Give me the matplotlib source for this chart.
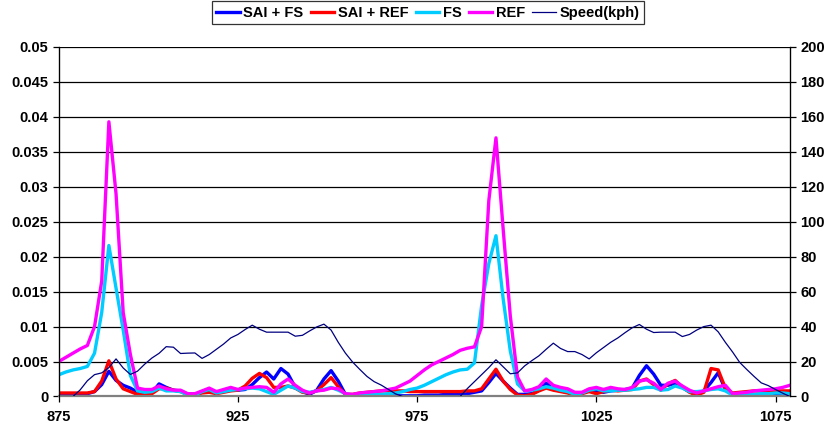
import numpy as np
import matplotlib
matplotlib.use("Agg")
import matplotlib.pyplot as plt

# ─── Data ─────────────────────────────────────────────────────────────────────

x = np.arange(875, 1080, 2)

sai_fs = [
    0.0002, 0.0002, 0.0002, 0.0003, 0.0004, 0.0007, 0.0017, 0.0036, 0.0023, 0.0016,
    0.0012, 0.0006, 0.0005, 0.0005, 0.0018, 0.0013, 0.0009, 0.0008, 0.0003, 0.0003,
    0.0006, 0.0009, 0.0006, 0.0008, 0.0009, 0.0009, 0.0010, 0.0017, 0.0027, 0.0035,
    0.0025, 0.0040, 0.0032, 0.0013, 0.0007, 0.0003, 0.0009, 0.0025, 0.0037, 0.0022,
    0.0003, 0.0002, 0.0002, 0.0002, 0.0001, 0.0001, 0.0001, 0.0001, 0.0001, 0.0001,
    0.0001, 0.0002, 0.0002, 0.0002, 0.0003, 0.0003, 0.0003, 0.0004, 0.0006, 0.0008,
    0.0020, 0.0033, 0.0022, 0.0012, 0.0003, 0.0003, 0.0004, 0.0009, 0.0019, 0.0010,
    0.0008, 0.0006, 0.0002, 0.0005, 0.0010, 0.0007, 0.0006, 0.0008, 0.0009, 0.0010,
    0.0012, 0.0030, 0.0044, 0.0032, 0.0016, 0.0016, 0.0019, 0.0013, 0.0007, 0.0002,
    0.0008, 0.0020, 0.0034, 0.0010, 0.0003, 0.0002, 0.0002, 0.0002, 0.0003, 0.0004,
    0.0004, 0.0005, 0.0002,
]

sai_ref = [
    0.0005, 0.0005, 0.0005, 0.0005, 0.0005, 0.0007, 0.0022, 0.0051, 0.0025, 0.0011,
    0.0007, 0.0003, 0.0002, 0.0004, 0.0011, 0.0012, 0.0009, 0.0007, 0.0003, 0.0003,
    0.0005, 0.0006, 0.0004, 0.0006, 0.0008, 0.0009, 0.0015, 0.0026, 0.0033, 0.0027,
    0.0013, 0.0013, 0.0015, 0.0012, 0.0006, 0.0005, 0.0008, 0.0017, 0.0027, 0.0014,
    0.0003, 0.0003, 0.0005, 0.0006, 0.0007, 0.0008, 0.0008, 0.0008, 0.0008, 0.0007,
    0.0007, 0.0007, 0.0007, 0.0007, 0.0007, 0.0007, 0.0007, 0.0008, 0.0008, 0.0011,
    0.0025, 0.0039, 0.0022, 0.0010, 0.0002, 0.0001, 0.0003, 0.0008, 0.0012, 0.0009,
    0.0007, 0.0005, 0.0002, 0.0004, 0.0007, 0.0004, 0.0007, 0.0009, 0.0008, 0.0009,
    0.0010, 0.0022, 0.0025, 0.0017, 0.0009, 0.0018, 0.0023, 0.0013, 0.0006, 0.0002,
    0.0006, 0.0040, 0.0038, 0.0012, 0.0005, 0.0006, 0.0007, 0.0008, 0.0008, 0.0008,
    0.0008, 0.0008, 0.0008,
]

fs = [
    0.0031, 0.0035, 0.0038, 0.0040, 0.0043, 0.0062, 0.0120, 0.0216, 0.0155, 0.0095,
    0.0030, 0.0008, 0.0006, 0.0007, 0.0012, 0.0008, 0.0008, 0.0007, 0.0002, 0.0002,
    0.0007, 0.0010, 0.0005, 0.0007, 0.0009, 0.0010, 0.0011, 0.0012, 0.0011, 0.0007,
    0.0003, 0.0009, 0.0015, 0.0012, 0.0007, 0.0006, 0.0008, 0.0010, 0.0013, 0.0009,
    0.0004, 0.0002, 0.0002, 0.0002, 0.0003, 0.0003, 0.0004, 0.0005, 0.0007, 0.0010,
    0.0012, 0.0016, 0.0021, 0.0026, 0.0031, 0.0035, 0.0038, 0.0039, 0.0048, 0.0130,
    0.0190, 0.0230, 0.0140, 0.0065, 0.0018, 0.0008, 0.0009, 0.0011, 0.0014, 0.0012,
    0.0009, 0.0007, 0.0003, 0.0005, 0.0009, 0.0011, 0.0008, 0.0008, 0.0009, 0.0009,
    0.0010, 0.0011, 0.0013, 0.0013, 0.0009, 0.0010, 0.0015, 0.0012, 0.0007, 0.0007,
    0.0008, 0.0010, 0.0011, 0.0008, 0.0002, 0.0003, 0.0003, 0.0003, 0.0004, 0.0004,
    0.0005, 0.0005, 0.0004,
]

ref = [
    0.0050, 0.0056, 0.0062, 0.0068, 0.0073, 0.0100, 0.0165, 0.0393, 0.0290, 0.0120,
    0.0060, 0.0012, 0.0010, 0.0010, 0.0015, 0.0011, 0.0009, 0.0009, 0.0004, 0.0004,
    0.0008, 0.0012, 0.0007, 0.0010, 0.0013, 0.0010, 0.0012, 0.0013, 0.0014, 0.0013,
    0.0006, 0.0018, 0.0025, 0.0016, 0.0009, 0.0005, 0.0008, 0.0009, 0.0012, 0.0011,
    0.0004, 0.0003, 0.0005, 0.0006, 0.0007, 0.0008, 0.0010, 0.0012, 0.0017, 0.0022,
    0.0030, 0.0038, 0.0045, 0.0050, 0.0055, 0.0060, 0.0066, 0.0069, 0.0071, 0.0100,
    0.0280, 0.0370, 0.0240, 0.0115, 0.0028, 0.0008, 0.0010, 0.0014, 0.0025, 0.0016,
    0.0013, 0.0011, 0.0006, 0.0006, 0.0011, 0.0013, 0.0010, 0.0013, 0.0011, 0.0010,
    0.0013, 0.0022, 0.0024, 0.0019, 0.0010, 0.0019, 0.0022, 0.0015, 0.0009, 0.0005,
    0.0008, 0.0011, 0.0014, 0.0016, 0.0004, 0.0005, 0.0006, 0.0008, 0.0009, 0.0010,
    0.0011, 0.0013, 0.0016,
]

speed = [
    0, 0, 0, 3.8, 9, 12.5, 13.5, 16.5, 21.5, 16.3,
    12.6, 14.5, 18.5, 22, 24.7, 28.5, 28.2, 24.6, 24.8, 24.9,
    21.8, 24, 27, 30, 33.5, 35.5, 38.3, 40.8, 38.5, 36.8,
    36.8, 36.8, 36.8, 34.5, 35, 37.5, 39.8, 41.4, 38, 31,
    24.8, 19.7, 15.5, 11.5, 8.5, 6.5, 4, 1.5, 0, 0,
    0, 0, 0, 0, 0, 0, 0, 4.5, 8.5, 12.5,
    16.5, 21, 17, 13, 13.5, 17.5, 20.5, 23.3, 27, 30.5,
    27.5, 25.7, 25.7, 24, 21.5, 25, 28, 31, 33.5, 36.5,
    39.3, 41.2, 38.5, 36.6, 36.8, 36.8, 36.8, 34.3, 35.5, 38,
    40, 40.8, 37, 31, 25.5, 19.5, 15.4, 11.5, 7.8, 6.2,
    4, 1.9, 0,
]

left_ticks = np.arange(0, 0.0501, 0.005)
left_labels = ["0", "0.005", "0.01", "0.015", "0.02", "0.025",
               "0.03", "0.035", "0.04", "0.045", "0.05"]
right_ticks = np.arange(0, 201, 20)
x_ticks = [875, 925, 975, 1025, 1075]

# ─── Figure ───────────────────────────────────────────────────────────────────

plt.rcParams["font.family"] = ["Liberation Sans", "DejaVu Sans"]
plt.rcParams["font.weight"] = "bold"
FS_ = 10.5

fig = plt.figure(figsize=(8.29, 4.29), dpi=100)
ax = fig.add_axes([0.0708, 0.0758, 0.882, 0.8147])

l1, = ax.plot(x, sai_fs, color="#0000FF", lw=2.4, label="SAI + FS")
l2, = ax.plot(x, sai_ref, color="#FF0000", lw=2.4, label="SAI + REF")
l3, = ax.plot(x, fs, color="#00CCFF", lw=2.4, label="FS")
l4, = ax.plot(x, ref, color="#FF00FF", lw=2.4, label="REF")

ax.set_xlim(875, 1079)
ax.set_ylim(0, 0.05)
ax.set_yticks(left_ticks)
ax.set_yticklabels(left_labels)
ax.set_xticks(x_ticks)
ax.set_xticklabels([str(t) for t in x_ticks])
for t in left_ticks[1:]:
    ax.axhline(t, color="black", lw=0.9, zorder=0)

ax.tick_params(axis="both", labelsize=FS_, direction="out", length=4, width=0.9)
ax.tick_params(axis="x", pad=6)
ax.spines["top"].set_visible(False)
ax.spines["bottom"].set_color("#808080")
ax.spines["bottom"].set_linewidth(1.6)
ax.spines["left"].set_linewidth(0.9)

ax2 = ax.twinx()
l5, = ax2.plot(x, speed, color="#000080", lw=0.9, label="Speed(kph)")
ax2.set_ylim(0, 200)
ax2.set_yticks(right_ticks)
ax2.tick_params(axis="y", labelsize=FS_, direction="out", length=4, width=0.9)
ax2.spines["top"].set_visible(False)
ax2.spines["bottom"].set_visible(False)
ax2.spines["right"].set_linewidth(0.9)

leg = fig.legend(handles=[l1, l2, l3, l4, l5], loc="center",
                 bbox_to_anchor=(0.516, 0.97), ncol=5, fontsize=FS_,
                 frameon=True, fancybox=False, edgecolor="black",
                 handlelength=1.6, handletextpad=0.25, columnspacing=0.5,
                 borderpad=0.3)
leg.get_frame().set_linewidth(0.9)

fig.savefig("out.png", dpi=100)
